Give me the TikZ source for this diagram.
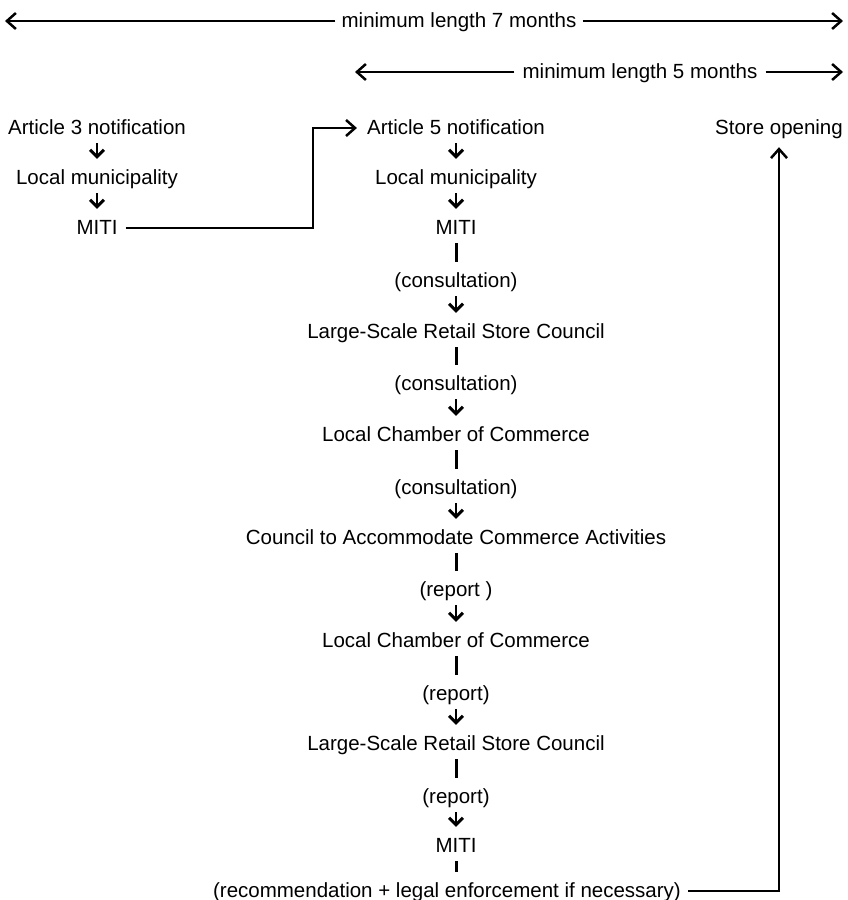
\documentclass[tikz,border=0pt]{standalone}
\usepackage{fontspec}
\setmainfont{Liberation Sans}
\usetikzlibrary{arrows.meta}
\begin{document}
\begin{tikzpicture}[x=1pt,y=-1pt,
  txt/.style={font=\fontsize{20.5}{24}\selectfont, inner sep=0pt, text height=16pt, text depth=4pt},
  dn/.style={line width=2.9pt, -{Straight Barb[length=7pt,width=14pt]}, shorten >=9pt, shorten <=5pt},
  bar/.style={line width=3pt, shorten >=9pt, shorten <=5pt},
  long/.style={line width=2.5pt},
  tip/.style={-{Straight Barb[length=9pt,width=16pt]}}]
\useasboundingbox (0,0) rectangle (848,900);

% top duration arrows
\node[txt, inner xsep=6pt] (t7) at (459,21) {minimum length 7 months};
\coordinate (L7) at (5,21);
\coordinate (R7) at (843,21);
\draw[long,tip] (t7) -- (L7);
\draw[long,tip] (t7) -- (R7);

\node[txt, inner xsep=8pt] (t5) at (640,72) {minimum length 5 months};
\coordinate (L5) at (355,72);
\coordinate (R5) at (843,72);
\draw[long,tip] (t5) -- (L5);
\draw[long,tip] (t5) -- (R5);

% left column
\node[txt] (a3) at (97,128) {Article 3 notification};
\node[txt] (lm1) at (97,178) {Local municipality};
\node[txt] (m1) at (97,228) {MITI};
\draw[dn] (a3) -- (lm1);
\draw[dn] (lm1) -- (m1);

% centre column
\node[txt] (a5) at (456,128) {Article 5 notification};
\node[txt] (lm2) at (456,178) {Local municipality};
\node[txt] (m2) at (456,228) {MITI};
\node[txt] (k1) at (456,281) {(consultation)};
\node[txt] (r1) at (456,332) {Large-Scale Retail Store Council};
\node[txt] (k2) at (456,384) {(consultation)};
\node[txt] (cc1) at (456,435) {Local Chamber of Commerce};
\node[txt] (k3) at (456,488) {(consultation)};
\node[txt] (ca) at (456,538) {Council to Accommodate Commerce Activities};
\node[txt] (p1) at (456,590) {(report )};
\node[txt] (cc2) at (456,641) {Local Chamber of Commerce};
\node[txt] (p2) at (456,694) {(report)};
\node[txt] (r2) at (456,744) {Large-Scale Retail Store Council};
\node[txt] (p3) at (456,797) {(report)};
\node[txt] (m3) at (456,846) {MITI};
\node[txt] (rec) at (447,891) {(recommendation + legal enforcement if necessary)};

\draw[dn] (a5) -- (lm2);
\draw[dn] (lm2) -- (m2);
\draw[bar] (m2) -- (k1);
\draw[dn] (k1) -- (r1);
\draw[bar] (r1) -- (k2);
\draw[dn] (k2) -- (cc1);
\draw[bar] (cc1) -- (k3);
\draw[dn] (k3) -- (ca);
\draw[bar] (ca) -- (p1);
\draw[dn] (p1) -- (cc2);
\draw[bar] (cc2) -- (p2);
\draw[dn] (p2) -- (r2);
\draw[bar] (r2) -- (p3);
\draw[dn] (p3) -- (m3);
\draw[bar] (m3.south) -- (rec.north -| m3.south);

% store opening
\node[txt] (so) at (779,128) {Store opening};

% connectors
\coordinate (j1) at (313,228);
\draw[long,tip,shorten <=8pt,shorten >=10pt] (m1) -- (j1) |- (a5);
\draw[long,tip,shorten <=7pt,shorten >=9pt] (rec) -| (so);
\end{tikzpicture}
\end{document}
